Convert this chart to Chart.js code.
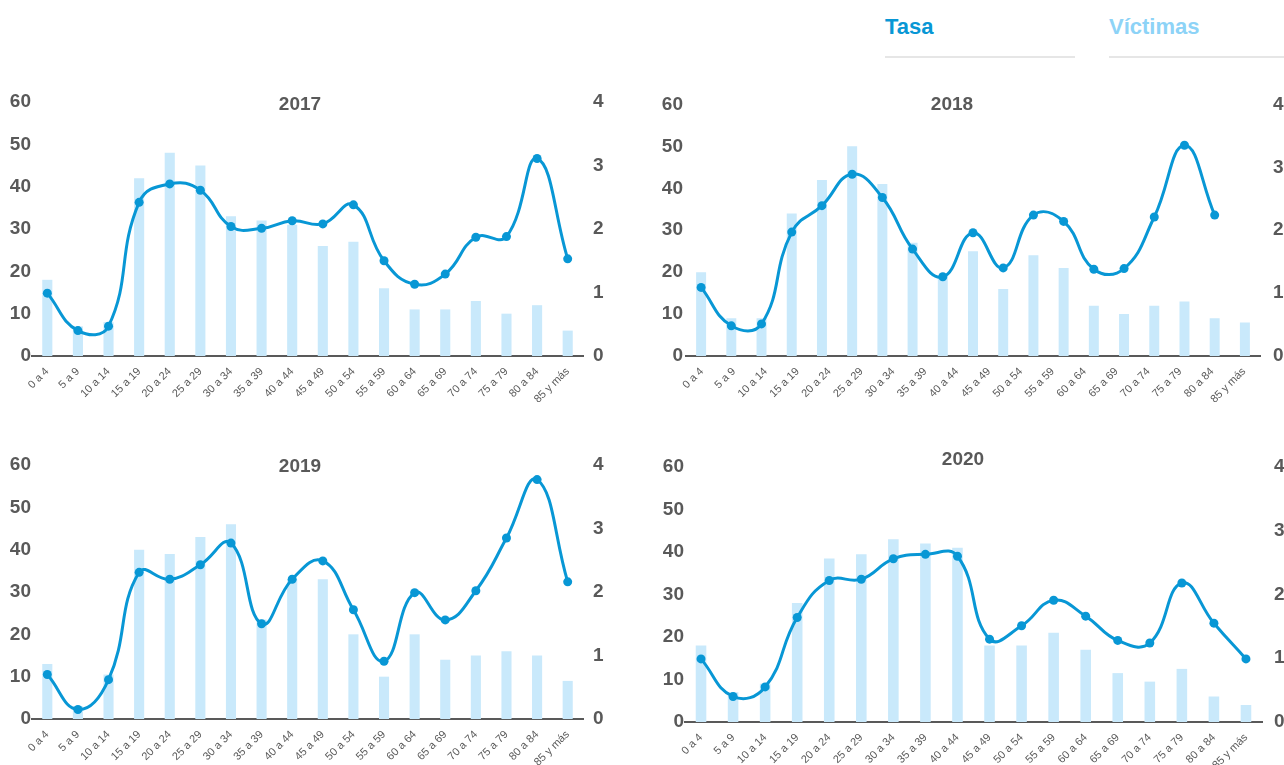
<!DOCTYPE html>
<html lang="es">
<head>
<meta charset="utf-8">
<title>Tasa y víctimas por grupo de edad, 2017-2020</title>
<script src="https://cdn.jsdelivr.net/npm/chart.js@4.4.1/dist/chart.umd.min.js"></script>
<style>
  html, body { margin: 0; padding: 0; background: #fff; }
  body { width: 1284px; height: 765px; position: relative; overflow: hidden; font-family: "Liberation Sans", Arial, sans-serif; }
  canvas { position: absolute; }
  .leyenda { position: absolute; top: 16px; font-weight: bold; font-size: 22px; line-height: 22px; }
  .raya { position: absolute; top: 56px; height: 2px; background: #e6e6e6; }
  .anio { position: absolute; font-weight: bold; font-size: 19px; line-height: 19px; color: #595959; transform: translate(-50%, -50%); }
</style>
</head>
<body>

<div class="leyenda" style="left:885px;color:#0897d5">Tasa</div>
<div class="raya" style="left:885px;width:190px"></div>
<div class="leyenda" style="left:1109px;color:#8dd3f7">Víctimas</div>
<div class="raya" style="left:1109px;width:175px"></div>

<canvas id="c2017" width="640" height="330" style="left:0;top:80px"></canvas>
<canvas id="c2018" width="639" height="330" style="left:645px;top:80px"></canvas>
<canvas id="c2019" width="640" height="325" style="left:0;top:440px"></canvas>
<canvas id="c2020" width="639" height="325" style="left:645px;top:440px"></canvas>

<div class="anio" style="left:300px;top:103px">2017</div>
<div class="anio" style="left:952px;top:103px">2018</div>
<div class="anio" style="left:300px;top:465px">2019</div>
<div class="anio" style="left:963px;top:458px">2020</div>

<script>
// grupos de edad (etiquetas del eje x)
const edades = ['0 a 4', '5 a 9', '10 a 14', '15 a 19', '20 a 24', '25 a 29', '30 a 34', '35 a 39', '40 a 44',
  '45 a 49', '50 a 54', '55 a 59', '60 a 64', '65 a 69', '70 a 74', '75 a 79', '80 a 84', '85 y más'];

// víctimas (eje izquierdo) y tasa (eje derecho) por año
const victimas2017 = [18, 7, 8, 42, 48, 45, 33, 32, 31, 26, 27, 16, 11, 11, 13, 10, 12, 6];
const tasa2017 = [0.99, 0.40, 0.47, 2.42, 2.71, 2.61, 2.04, 2.01, 2.13, 2.08, 2.38, 1.50, 1.13, 1.29, 1.87, 1.88, 3.11, 1.53];

// 2018 trae una barra más que etiquetas
const victimas2018 = [20, 9, 9, 34, 42, 50, 41, 27, 19, 25, 16, 24, 21, 12, 10, 12, 13, 9, 8];
const tasa2018 = [1.09, 0.48, 0.51, 1.97, 2.39, 2.89, 2.52, 1.70, 1.26, 1.96, 1.40, 2.24, 2.14, 1.38, 1.39, 2.21, 3.35, 2.24];

const victimas2019 = [13, 3, 10.5, 40, 39, 43, 46, 23.5, 33, 33, 20, 10, 20, 14, 15, 16, 15, 9];
const tasa2019 = [0.70, 0.15, 0.62, 2.31, 2.20, 2.43, 2.77, 1.50, 2.20, 2.49, 1.72, 0.91, 1.99, 1.56, 2.02, 2.85, 3.77, 2.16];

const victimas2020 = [18, 7, 9, 28, 38.5, 39.5, 43, 42, 41, 18, 18, 21, 17, 11.5, 9.5, 12.5, 6, 4];
const tasa2020 = [0.99, 0.40, 0.55, 1.64, 2.22, 2.24, 2.56, 2.63, 2.60, 1.30, 1.51, 1.91, 1.66, 1.28, 1.24, 2.18, 1.55, 0.99];

// escalas
const maxVictimas = 60;
const pasoVictimas = 10;
const maxTasa = 4;
const pasoTasa = 1;

const AZUL = '#0897d5';
const CELESTE = '#c9e9fb';
const GRIS = '#595959';

const fuenteEje = { family: '"Liberation Sans", Arial, sans-serif', size: 19, weight: 'bold' };

// medidas de cada panel: margen superior, ancho de ejes y alto del eje x
const cajas = {
  c2017: { padTop: 22, yW: 32, y2W: 57, xlH: 54, padY: 1, padY2: 10 },
  c2018: { padTop: 22, yW: 41, y2W: 24, xlH: 54, padY: 3, padY2: 13 },
  c2019: { padTop: 25, yW: 32, y2W: 57, xlH: 46, padY: 1, padY2: 10 },
  c2020: { padTop: 27, yW: 40, y2W: 22, xlH: 43, padY: 1, padY2: 12 },
};

function crearPanel(id, victimas, tasa) {
  const caja = cajas[id];
  const ctx = document.getElementById(id).getContext('2d');
  return new Chart(ctx, {
    data: {
      labels: victimas.map((_, i) => i),
      datasets: [
        {
          type: 'line',
          label: 'Tasa',
          data: tasa,
          yAxisID: 'y2',
          xAxisID: 'x',
          borderColor: AZUL,
          backgroundColor: AZUL,
          borderWidth: 3,
          pointRadius: 4.5,
          pointBackgroundColor: AZUL,
          pointBorderWidth: 0,
          tension: 0.45,
          clip: false,
          order: 0,
        },
        {
          type: 'bar',
          label: 'Víctimas',
          data: victimas,
          yAxisID: 'y',
          xAxisID: 'x',
          backgroundColor: CELESTE,
          barPercentage: 0.33,
          categoryPercentage: 1,
          order: 1,
        },
      ],
    },
    options: {
      responsive: false,
      animation: false,
      layout: { padding: { top: caja.padTop, left: 0, right: 0, bottom: 0 } },
      plugins: { legend: { display: false }, tooltip: { enabled: false } },
      scales: {
        x: { type: 'category', display: false, offset: true },
        // eje de etiquetas: reparte las 18 edades sobre todo el ancho
        xl: {
          type: 'category',
          labels: edades,
          position: 'bottom',
          offset: true,
          grid: { display: false, drawTicks: false },
          border: { display: true, color: GRIS, width: 2 },
          ticks: {
            autoSkip: false,
            minRotation: 45,
            maxRotation: 45,
            padding: 9,
            color: GRIS,
            font: { family: '"Liberation Sans", Arial, sans-serif', size: 11 },
          },
          afterFit: (s) => { s.height = caja.xlH; },
        },
        y: {
          position: 'left',
          min: 0,
          max: maxVictimas,
          grid: { display: false, drawTicks: false },
          border: { display: false },
          ticks: { stepSize: pasoVictimas, padding: caja.padY, color: GRIS, font: fuenteEje },
          afterFit: (s) => { s.width = caja.yW; },
        },
        y2: {
          position: 'right',
          min: 0,
          max: maxTasa,
          grid: { display: false, drawTicks: false },
          border: { display: false },
          ticks: { stepSize: pasoTasa, padding: caja.padY2, color: GRIS, font: fuenteEje },
          afterFit: (s) => { s.width = caja.y2W; },
        },
      },
    },
  });
}

crearPanel('c2017', victimas2017, tasa2017);
crearPanel('c2018', victimas2018, tasa2018);
crearPanel('c2019', victimas2019, tasa2019);
crearPanel('c2020', victimas2020, tasa2020);
</script>
</body>
</html>
